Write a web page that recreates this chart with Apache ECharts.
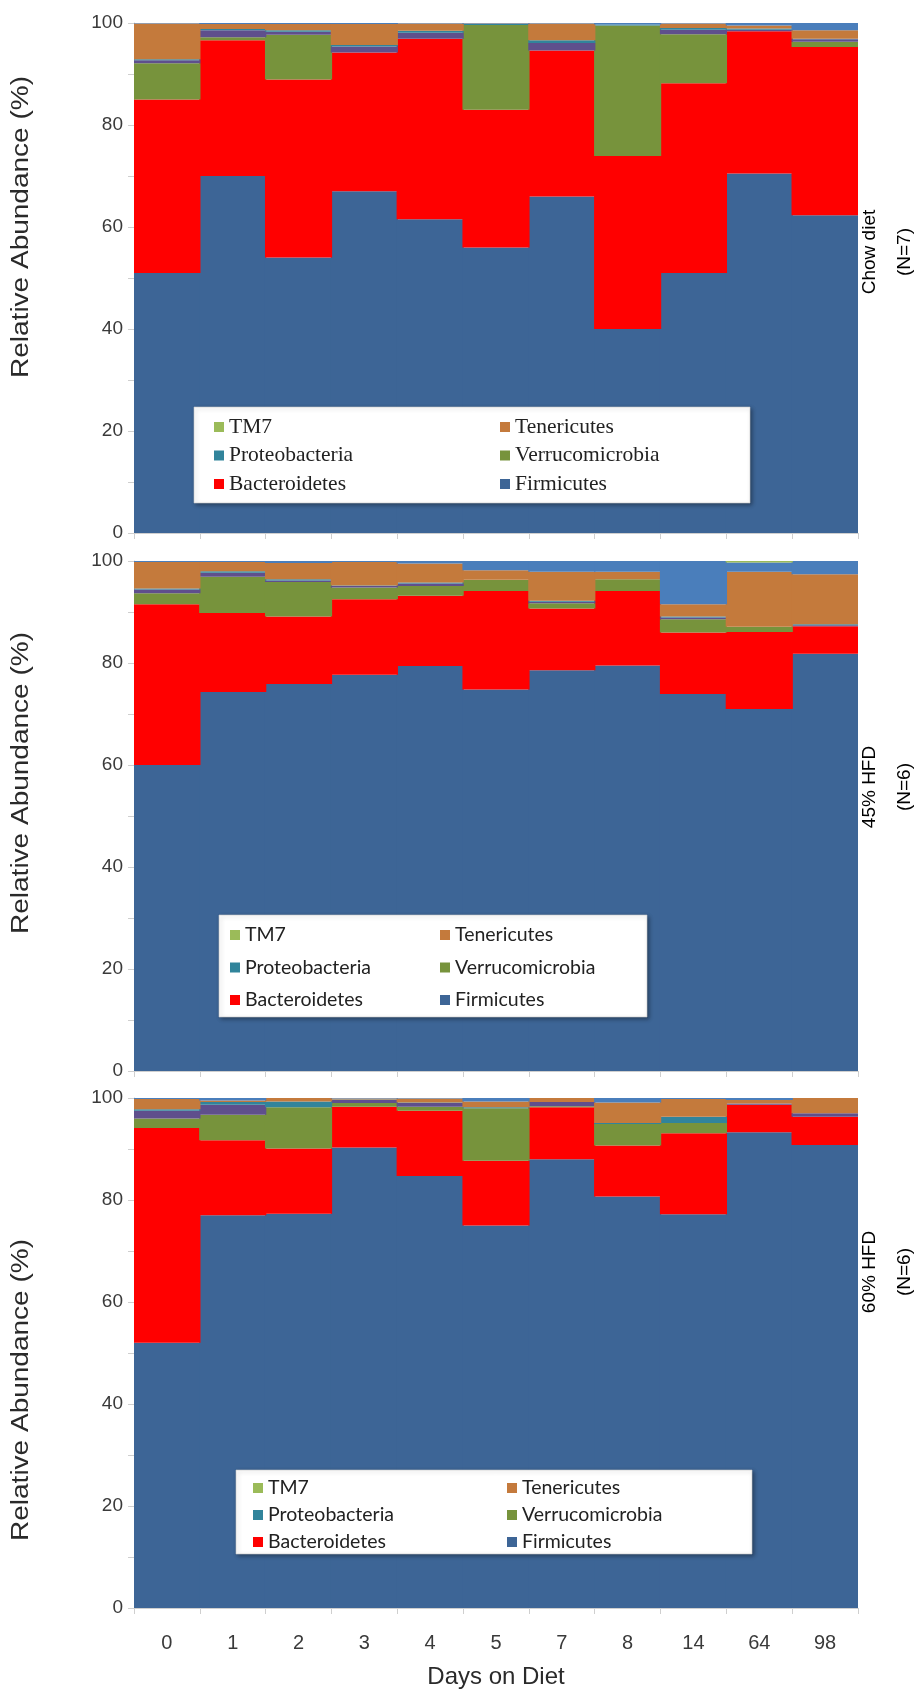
<!DOCTYPE html>
<html><head><meta charset="utf-8">
<script src="https://cdn.jsdelivr.net/npm/echarts@6/dist/echarts.min.js"></script>
<style>html,body{margin:0;padding:0;background:#fff}#c{width:921px;height:1690px}</style>
</head><body><div id="c"></div>
<script>
// ---- categories / ticks ----
const days = ['0','1','2','3','4','5','7','8','14','64','98'];
const yTickInterval = 20;

// ---- Panel 1: Chow diet (N=7) ----
const chowFirmicutes      = [51, 70, 54, 67, 61.5, 56, 66, 40, 51, 70.5, 62.3];
const chowBacteroidetes   = [34, 26.6, 34.9, 27.2, 35.4, 27, 28.6, 33.9, 37.2, 27.9, 33];
const chowVerrucomicrobia = [7.1, 0.6, 8.8, 0, 0, 16.6, 0, 25.6, 9.6, 0, 1.0];
const chowPurple          = [0.6, 1.4, 0.6, 1.2, 1.2, 0, 1.5, 0, 0.9, 0.3, 0.5];
const chowProteobacteria  = [0.2, 0.2, 0.3, 0.3, 0.4, 0.2, 0.5, 0.2, 0.3, 0.2, 0.1];
const chowTenericutes     = [7.0, 1.0, 1.2, 4.1, 1.4, 0.1, 3.3, 0, 0.9, 0.6, 1.7];
const chowOther           = [0.1, 0.2, 0.2, 0.2, 0.1, 0.1, 0.1, 0.3, 0.1, 0.5, 1.4];
const chowTM7             = [0, 0, 0, 0, 0, 0, 0, 0, 0, 0, 0];

// ---- Panel 2: 45% HFD (N=6) ----
const hfd45Firmicutes      = [60, 74.3, 75.9, 77.7, 79.4, 74.8, 78.6, 79.5, 73.9, 71, 81.8];
const hfd45Bacteroidetes   = [31.5, 15.5, 13.2, 14.8, 13.8, 19.3, 12.1, 14.6, 12.1, 15.1, 5.4];
const hfd45Verrucomicrobia = [2.2, 7.1, 6.8, 2.3, 1.9, 2.2, 1.0, 2.3, 2.6, 1.0, 0];
const hfd45Purple          = [0.7, 0.8, 0.3, 0.3, 0.5, 0, 0.3, 0, 0.3, 0, 0.2];
const hfd45Proteobacteria  = [0.2, 0.3, 0.2, 0.1, 0.2, 0, 0.2, 0, 0.2, 0, 0.2];
const hfd45Tenericutes     = [5.2, 1.8, 3.2, 4.6, 3.7, 1.9, 5.7, 1.5, 2.4, 10.8, 9.8];
const hfd45Other           = [0.2, 0.2, 0.4, 0.2, 0.5, 1.8, 2.1, 2.1, 8.5, 1.8, 2.6];
const hfd45TM7             = [0, 0, 0, 0, 0, 0, 0, 0, 0, 0.3, 0];

// ---- Panel 3: 60% HFD (N=6) ----
const hfd60Firmicutes      = [52, 77, 77.3, 90.3, 84.7, 75, 88, 80.7, 77.2, 93.3, 90.8];
const hfd60Bacteroidetes   = [42.1, 14.7, 12.8, 8.0, 12.8, 12.7, 10.2, 10, 15.9, 5.4, 5.5];
const hfd60Verrucomicrobia = [1.9, 5.0, 8.1, 0.7, 0.8, 10.3, 0.2, 4.2, 2.0, 0, 0];
const hfd60Purple          = [1.5, 2.0, 0, 0.6, 0.7, 0, 0.8, 0, 0, 0.2, 0.7];
const hfd60Proteobacteria  = [0.3, 0.5, 1.1, 0.1, 0.1, 0.2, 0, 0.2, 1.2, 0, 0];
const hfd60Tenericutes     = [2.0, 0.3, 0.7, 0.2, 0.8, 1.1, 0.8, 4.0, 3.5, 0.7, 3.0];
const hfd60Other           = [0.2, 0.5, 0, 0.1, 0.1, 0.7, 0, 0.9, 0.2, 0.4, 0];
const hfd60TM7             = [0, 0, 0, 0, 0, 0, 0, 0, 0, 0, 0];

const panelLabels = [['Chow diet', '(N=7)'], ['45% HFD', '(N=6)'], ['60% HFD', '(N=6)']];
const legendCol1 = ['TM7', 'Proteobacteria', 'Bacteroidetes'];
const legendCol2 = ['Tenericutes', 'Verrucomicrobia', 'Firmicutes'];

const panels = [
  [chowFirmicutes, chowBacteroidetes, chowVerrucomicrobia, chowPurple, chowProteobacteria, chowTenericutes, chowOther, chowTM7],
  [hfd45Firmicutes, hfd45Bacteroidetes, hfd45Verrucomicrobia, hfd45Purple, hfd45Proteobacteria, hfd45Tenericutes, hfd45Other, hfd45TM7],
  [hfd60Firmicutes, hfd60Bacteroidetes, hfd60Verrucomicrobia, hfd60Purple, hfd60Proteobacteria, hfd60Tenericutes, hfd60Other, hfd60TM7]
];
const seriesNames = ['Firmicutes', 'Bacteroidetes', 'Verrucomicrobia', 'Actinobacteria', 'Proteobacteria', 'Tenericutes', 'Other', 'TM7'];
const seriesColors = ['#3d6596', '#ff0000', '#77933c', '#5f4f8c', '#31849b', '#c47a3c', '#4a7ebb', '#9bbb59'];

// ---- layout ----
const gridLeft = 134, gridWidth = 724, gridHeight = 510;
const gridTops = [23, 561, 1098];
const axisGray = '#cfcfcf';
const labelFont = 'Liberation Sans, Arial, sans-serif';

const grid = [], xAxis = [], yAxis = [], series = [], legend = [], graphic = [];

gridTops.forEach((top, p) => {
  grid.push({ left: gridLeft, top: top, width: gridWidth, height: gridHeight });
  xAxis.push({
    type: 'category', gridIndex: p, data: days,
    axisLine: { lineStyle: { color: axisGray, width: 1 } },
    axisTick: { show: true, length: 6, lineStyle: { color: axisGray } },
    axisLabel: { show: p === 2, fontSize: 20, color: '#3a3a3a', margin: 25, fontFamily: labelFont },
    z: 5
  });
  yAxis.push({
    type: 'value', gridIndex: p, min: 0, max: 100, interval: yTickInterval,
    axisLine: { show: true, lineStyle: { color: axisGray } },
    axisTick: { show: true, length: 6, lineStyle: { color: axisGray } },
    minorTick: { show: true, splitNumber: 2, length: 6, lineStyle: { color: axisGray } },
    splitLine: { show: false },
    axisLabel: { fontSize: 19, color: '#3a3a3a', margin: 11, fontFamily: labelFont }
  });
  panels[p].forEach((vals, s) => {
    series.push({
      type: 'bar', name: seriesNames[s], xAxisIndex: p, yAxisIndex: p,
      stack: 'panel' + p, data: vals, barWidth: '102%',
      itemStyle: { color: seriesColors[s] },
      emphasis: { disabled: true }, animation: false
    });
  });
});

// legends: white box + two vertical columns per panel
const legendCfg = [
  { box: [194, 407, 556, 96], col1: 214, col2: 500, top: 416, lineH: 22, gap: 6.5, font: 'Liberation Serif, Times New Roman, serif', size: 21.5 },
  { box: [219, 915, 428, 102], col1: 230, col2: 440, top: 924, lineH: 22, gap: 10.5, font: 'Lato, Carlito, sans-serif', size: 19.5 },
  { box: [236, 1470, 516, 84], col1: 253, col2: 507, top: 1477, lineH: 22, gap: 5, font: 'Lato, Carlito, sans-serif', size: 19.5 }
];
legendCfg.forEach((c) => {
  graphic.push({
    type: 'rect', z: 3,
    shape: { x: c.box[0], y: c.box[1], width: c.box[2], height: c.box[3] },
    style: { fill: '#ffffff', stroke: '#c8c8c8', lineWidth: 0.6, shadowBlur: 4, shadowColor: 'rgba(0,0,0,0.35)', shadowOffsetX: 1.5, shadowOffsetY: 1.5 }
  });
  [[legendCol1, c.col1], [legendCol2, c.col2]].forEach(([names, left]) => {
    legend.push({
      data: names.map(n => ({ name: n, itemStyle: { color: seriesColors[seriesNames.indexOf(n)] } })),
      left: left, top: c.top, orient: 'vertical', padding: 0,
      itemWidth: 10, itemHeight: 10, itemGap: c.gap, icon: 'rect',
      selectedMode: false, z: 6,
      textStyle: { fontFamily: c.font, fontSize: c.size, color: '#222', lineHeight: c.lineH }
    });
  });
});

// axis titles & panel labels
const yTitleCenters = [227, 783, 1390];
const sideCenters = [252, 787, 1272];
gridTops.forEach((top, p) => {
  graphic.push({
    type: 'text', x: 21, y: yTitleCenters[p], rotation: Math.PI / 2, scaleY: 0.85,
    style: { text: 'Relative Abundance (%)', font: '28px ' + labelFont, fill: '#2a2a2a', textAlign: 'center', textVerticalAlign: 'middle' }
  });
  graphic.push({
    type: 'text', x: 870, y: sideCenters[p], rotation: Math.PI / 2,
    style: { text: panelLabels[p][0], font: '19px ' + labelFont, fill: '#000', textAlign: 'center', textVerticalAlign: 'middle' }
  });
  graphic.push({
    type: 'text', x: 905, y: sideCenters[p], rotation: Math.PI / 2,
    style: { text: panelLabels[p][1], font: '19px ' + labelFont, fill: '#000', textAlign: 'center', textVerticalAlign: 'middle' }
  });
});
graphic.push({
  type: 'text', x: gridLeft + gridWidth / 2, y: 1677,
  style: { text: 'Days on Diet', font: '24px ' + labelFont, fill: '#2a2a2a', textAlign: 'center', textVerticalAlign: 'middle' }
});

const chart = echarts.init(document.getElementById('c'), null, { renderer: 'canvas' });
chart.setOption({ animation: false, backgroundColor: '#fff', grid, xAxis, yAxis, series, legend, graphic });
</script></body></html>
